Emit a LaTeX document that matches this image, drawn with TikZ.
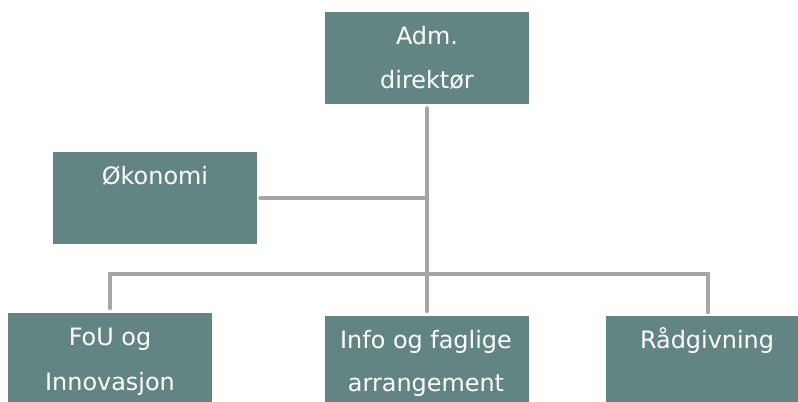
\documentclass[tikz,border=0pt]{standalone}
\usepackage{fontspec}
\setmainfont{DejaVu Sans}
\definecolor{boxc}{RGB}{98,133,131}
\definecolor{linec}{RGB}{166,166,166}
\begin{document}
\begin{tikzpicture}[x=1bp,y=-1bp,
  box/.style={fill=boxc,draw=none,minimum width=204bp,minimum height=92bp,inner sep=0pt,anchor=north west},
  lbl/.style={text=white,font=\fontsize{24}{28}\selectfont,anchor=base,inner sep=0pt},
  conn/.style={draw=linec,line width=4.5bp,line cap=round}]
\useasboundingbox (0,0) rectangle (798,401);
\node[box] (adm) at (325,12) {};
\node[box] (oko) at (53,152) {};
\node[box] (fou) at (8,313) {};
\node[box] (info) at (325,316) {};
\node[box] (rad) at (606,316) {};
\node[lbl] (t1) at (427,44) {Adm.};
\node[lbl] (t2) at (427,88) {direktør};
\node[lbl] (t3) at (155,184) {Økonomi};
\node[lbl] (t4) at (110,345) {FoU og};
\node[lbl] (t5) at (110,390) {Innovasjon};
\node[lbl] (t6) at (426,348) {Info og faglige};
\node[lbl] (t7) at (426,391) {arrangement};
\node[lbl] (t8) at (707,348) {Rådgivning};
\coordinate (bar) at (427,274);
\draw[conn,shorten <=4bp,shorten >=5bp] (adm.south) -- (info.north);
\draw[conn,shorten <=3bp] (oko.east) -- (oko.east -| adm.south);
\draw[conn,shorten <=5bp,shorten >=4bp] (fou.north) |- (bar) -| (rad.north);
\end{tikzpicture}
\end{document}
